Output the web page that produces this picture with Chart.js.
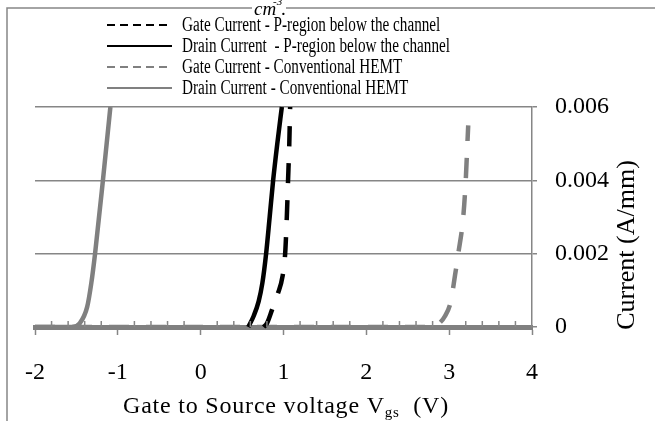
<!DOCTYPE html>
<html>
<head>
<meta charset="utf-8">
<script src="https://cdn.jsdelivr.net/npm/chart.js@4.4.0/dist/chart.umd.min.js"></script>
<style>
html, body { margin: 0; padding: 0; background: #fff; }
</style>
</head>
<body>
<canvas id="ichart1" width="655" height="421"></canvas>
<script>
//================ data ================
const seriesLabels = [
	'Gate Current - P-region below the channel',
	'Drain Current  - P-region below the channel',
	'Gate Current - Conventional HEMT',
	'Drain Current - Conventional HEMT'
];
// gate current, P-region below the channel (black dashed)
const vgsGateP = [0.76, 0.80, 0.86, 0.93, 0.99, 1.02, 1.04, 1.055, 1.07, 1.08];
const iGateP   = [0, 0.0001, 0.00046, 0.0009, 0.0014, 0.002, 0.003, 0.004, 0.005, 0.006];
// drain current, P-region below the channel (black solid)
const vgsDrainP = [0.575, 0.64, 0.70, 0.745, 0.79, 0.833, 0.875, 0.925, 0.98];
const iDrainP   = [0, 0.0003, 0.0007, 0.0012, 0.002, 0.003, 0.004, 0.005, 0.006];
// gate current, conventional HEMT (grey dashed)
const vgsGateC = [-2, 2.81, 2.88, 2.95, 3.02, 3.07, 3.11, 3.17, 3.20, 3.22, 3.23];
const iGateC   = [0, 0, 0.0001, 0.0003, 0.0007, 0.0014, 0.002, 0.003, 0.004, 0.005, 0.0055];
// drain current, conventional HEMT (grey solid)
const vgsDrainC = [-2, -1.55, -1.46, -1.37, -1.32, -1.275, -1.18, -1.09];
const iDrainC   = [0, 0, 0.0001, 0.00055, 0.0012, 0.002, 0.004, 0.006];

const xMin = -2, xMax = 4, xStep = 1, xMinorStep = 0.2;
const yMin = 0, yMax = 0.006, yStep = 0.002;
//===========================================================

function pts(xs, ys) {
	return xs.map((x, i) => ({ x: x, y: ys[i] }));
}

const grey = 'rgb(128, 128, 128)';
const gridGrey = 'rgb(134, 134, 134)';
const serif = '"Liberation Serif", "Times New Roman", serif';

// frame, legend, axis titles and minor ticks
const decor = {
	id: 'decor',
	afterDraw(chart) {
		const ctx = chart.ctx;
		const xs = chart.scales.x;
		const ca = chart.chartArea;
		ctx.save();

		// outer frame (cut off by the picture)
		ctx.strokeStyle = gridGrey;
		ctx.lineWidth = 1.5;
		ctx.beginPath();
		ctx.moveTo(7, 421);
		ctx.lineTo(7, 8);
		ctx.lineTo(655, 8);
		ctx.stroke();

		// minor ticks on x axis, inside
		ctx.strokeStyle = gridGrey;
		ctx.lineWidth = 1.5;
		for (let v = xMin + xMinorStep; v < xMax - 1e-9; v += xMinorStep) {
			if (Math.abs(v - Math.round(v)) < 1e-6) continue;
			const px = xs.getPixelForValue(v);
			ctx.beginPath();
			ctx.moveTo(px, ca.bottom);
			ctx.lineTo(px, ca.bottom - 6);
			ctx.stroke();
		}

		// fragment of the figure caption above
		ctx.fillStyle = '#fff';
		ctx.fillRect(252, 0, 34, 17);
		ctx.fillStyle = '#000';
		ctx.textBaseline = 'alphabetic';
		ctx.font = 'italic 19px ' + serif;
		ctx.fillText('cm', 254, 15);
		ctx.font = 'italic 11px ' + serif;
		ctx.fillText('-3', 273, 5);
		ctx.font = '19px ' + serif;
		ctx.fillText('.', 281, 15);

		// legend
		chart.data.datasets.forEach((ds, i) => {
			const y = 25 + i * 21;
			ctx.strokeStyle = ds.borderColor;
			ctx.lineWidth = 2;
			ctx.setLineDash(ds.borderDash.length ? [8, 5] : []);
			ctx.beginPath();
			ctx.moveTo(107, y);
			ctx.lineTo(172, y);
			ctx.stroke();
			ctx.setLineDash([]);
			ctx.save();
			ctx.translate(182, y);
			ctx.scale(0.76, 1);
			ctx.fillStyle = '#000';
			ctx.font = '20px ' + serif;
			ctx.textBaseline = 'middle';
			ctx.fillText(ds.label, 0, 1);
			ctx.restore();
		});

		// x axis title with subscript
		ctx.fillStyle = '#000';
		ctx.textBaseline = 'alphabetic';
		ctx.letterSpacing = '0.8px';
		let tx = 123;
		const ty = 413;
		ctx.font = '24px ' + serif;
		const t1 = 'Gate to Source voltage V';
		ctx.fillText(t1, tx, ty);
		tx += ctx.measureText(t1).width;
		ctx.font = '15px ' + serif;
		ctx.fillText('gs', tx, ty + 4);
		tx += ctx.measureText('gs').width;
		ctx.font = '24px ' + serif;
		ctx.fillText('  (V)', tx, ty);
		ctx.letterSpacing = '0px';

		// y axis title
		ctx.save();
		ctx.translate(627, 245);
		ctx.rotate(-Math.PI / 2);
		ctx.textAlign = 'center';
		ctx.textBaseline = 'middle';
		ctx.font = '26px ' + serif;
		ctx.fillText('Current (A/mm)', 0, 0);
		ctx.restore();

		ctx.restore();
	}
};

const ctx1 = document.getElementById('ichart1').getContext('2d');
const myChart1 = new Chart(ctx1, {
	type: 'line',
	data: {
		datasets: [
			{
				label: seriesLabels[0],
				data: pts(vgsGateP, iGateP),
				borderColor: 'rgb(0, 0, 0)',
				borderDash: [20, 17],
				borderWidth: 4.5,
			},
			{
				label: seriesLabels[1],
				data: pts(vgsDrainP, iDrainP),
				borderColor: 'rgb(0, 0, 0)',
				borderDash: [],
				borderWidth: 4.5,
			},
			{
				label: seriesLabels[2],
				data: pts(vgsGateC, iGateC),
				borderColor: grey,
				borderDash: [20, 17],
				borderWidth: 4.5,
			},
			{
				label: seriesLabels[3],
				data: pts(vgsDrainC, iDrainC),
				borderColor: grey,
				borderDash: [],
				borderWidth: 4.5,
			}
		]
	},
	options: {
		responsive: false,
		animation: false,
		devicePixelRatio: 1,
		radius: 0,
		clip: false,
		elements: {
			line: { cubicInterpolationMode: 'monotone', borderCapStyle: 'butt' }
		},
		layout: { padding: { top: 107, left: 35, right: 0, bottom: 0 } },
		plugins: {
			legend: { display: false },
			tooltip: { enabled: false }
		},
		scales: {
			x: {
				type: 'linear',
				min: xMin,
				max: xMax,
				afterFit: s => { s.height = 94; },
				ticks: {
					stepSize: xStep,
					padding: 23,
					color: '#000',
					font: { family: serif, size: 24 }
				},
				grid: {
					drawOnChartArea: false,
					drawTicks: true,
					tickLength: 8,
					tickColor: gridGrey,
					tickWidth: 1.5
				},
				border: { display: true, color: grey, width: 5 }
			},
			y: {
				position: 'right',
				min: yMin,
				max: yMax,
				afterFit: s => { s.width = 123; },
				ticks: {
					stepSize: yStep,
					padding: 18,
					color: '#000',
					font: { family: serif, size: 24 }
				},
				grid: {
					color: ctx => ctx.tick && ctx.tick.value === 0 ? 'rgba(0,0,0,0)' : gridGrey,
					lineWidth: 1.5,
					drawTicks: true,
					tickLength: 5,
					tickColor: gridGrey
				},
				border: { display: true, color: gridGrey, width: 1.5 }
			}
		}
	},
	plugins: [decor]
});
</script>
</body>
</html>
